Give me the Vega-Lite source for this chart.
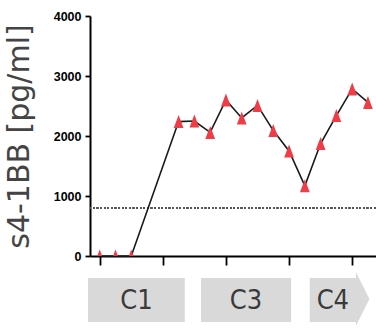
{
  "$schema": "https://vega.github.io/schema/vega-lite/v6.json",
  "autosize": {"type": "pad"},
  "padding": {"left": 4, "top": 10, "right": 0, "bottom": 0},
  "background": "white",
  "config": {"view": {"stroke": null}, "font": "Liberation Sans"},
  "datasets": {
    "conc": [
      {"i": 0, "v": 0}, {"i": 1, "v": 0}, {"i": 2, "v": 0},
      {"i": 5, "v": 2240}, {"i": 6, "v": 2250}, {"i": 7, "v": 2060},
      {"i": 8, "v": 2600}, {"i": 9, "v": 2300}, {"i": 10, "v": 2510},
      {"i": 11, "v": 2090}, {"i": 12, "v": 1750}, {"i": 13, "v": 1170},
      {"i": 14, "v": 1875}, {"i": 15, "v": 2340}, {"i": 16, "v": 2785},
      {"i": 17, "v": 2560}
    ],
    "cycles": [
      {"label": "C1", "start": -0.74, "end": 5.39},
      {"label": "C3", "start": 6.42, "end": 12.13},
      {"label": "C4", "start": 13.31, "end": 16.24}
    ]
  },
  "bounds": "flush",
  "spacing": 16,
  "vconcat": [
    {
      "width": 289,
      "height": 240,
      "data": {"name": "conc"},
      "layer": [
        {
          "mark": {"type": "rule", "color": "#555555", "strokeDash": [1.4, 2.2], "strokeWidth": 1.4},
          "encoding": {"y": {"datum": 800, "type": "quantitative"}}
        },
        {
          "mark": {"type": "line", "color": "#1a1a1a", "strokeWidth": 1.6},
          "encoding": {
            "x": {
              "field": "i", "type": "quantitative",
              "scale": {"domain": [-0.615, 17.7], "nice": false, "zero": false},
              "axis": {
                "values": [0, 1, 2, 3, 4, 5, 6, 7, 8, 9, 10, 11, 12, 13, 14, 15, 16, 17],
                "labels": false, "title": null, "grid": false,
                "domainColor": "black", "domainWidth": 2,
                "tickColor": "black", "tickWidth": 1.8, "tickSize": 9
              }
            },
            "y": {
              "field": "v", "type": "quantitative",
              "scale": {"domain": [0, 4000], "nice": false},
              "axis": {
                "values": [0, 500, 1000, 1500, 2000, 2500, 3000, 3500, 4000],
                "format": "d",
                "labelExpr": "datum.value % 1000 === 0 ? datum.label : ''",
                "title": "s4-1BB [pg/ml]",
                "titleFont": "DejaVu Sans", "titleFontSize": 30, "titleFontWeight": "normal",
                "titleColor": "#444444", "titlePadding": 19,
                "labelFont": "Liberation Sans", "labelFontSize": 12.5, "labelFontWeight": "bold",
                "labelColor": "black", "labelPadding": 4,
                "tickSize": 5, "tickWidth": 1.8, "tickColor": "black",
                "domainWidth": 2, "domainColor": "black", "grid": false
              }
            }
          }
        },
        {
          "mark": {
            "type": "point", "shape": "M0,-1L-0.75,1L0.75,1Z", "size": 169,
            "filled": true, "color": "#f03c46", "opacity": 1, "clip": true
          },
          "encoding": {
            "x": {"field": "i", "type": "quantitative"},
            "y": {"field": "v", "type": "quantitative"}
          }
        }
      ]
    },
    {
      "width": 289,
      "height": 54,
      "data": {"name": "cycles"},
      "layer": [
        {
          "mark": {"type": "rect", "color": "#d9d9d9"},
          "encoding": {
            "x": {
              "field": "start", "type": "quantitative",
              "scale": {"domain": [-0.615, 17.7], "nice": false, "zero": false},
              "axis": null
            },
            "x2": {"field": "end"},
            "y": {"datum": -23, "type": "quantitative", "scale": {"domain": [-27, 27], "nice": false}, "axis": null},
            "y2": {"datum": 21}
          }
        },
        {
          "transform": [{"filter": "datum.label === 'C4'"}],
          "mark": {
            "type": "point", "shape": "M0,-1L0.5,0L0,1Z", "size": 2916,
            "filled": true, "color": "#d9d9d9", "opacity": 1, "strokeWidth": 0
          },
          "encoding": {
            "x": {"field": "end", "type": "quantitative"},
            "y": {"datum": 0, "type": "quantitative"}
          }
        },
        {
          "transform": [
            {"fold": ["start", "end"], "as": ["k", "pos"]},
            {"aggregate": [{"op": "mean", "field": "pos", "as": "mid"}], "groupby": ["label"]}
          ],
          "mark": {
            "type": "text", "font": "DejaVu Sans Condensed, Roboto, Liberation Sans", "fontSize": 27,
            "color": "#3a3a3a", "baseline": "middle", "align": "center"
          },
          "encoding": {
            "x": {"field": "mid", "type": "quantitative"},
            "y": {"datum": -2, "type": "quantitative"},
            "text": {"field": "label"}
          }
        }
      ]
    }
  ]
}
